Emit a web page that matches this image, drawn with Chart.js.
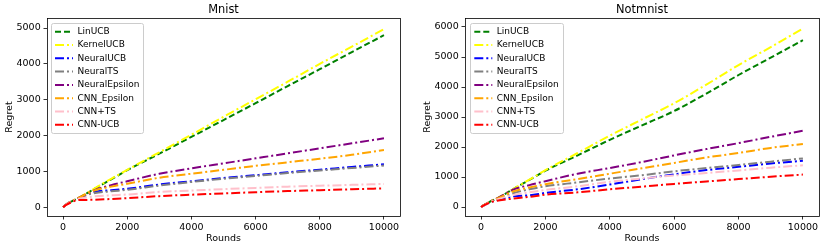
<!DOCTYPE html>
<html>
<head>
<meta charset="utf-8">
<script src="https://cdn.jsdelivr.net/npm/chart.js@4.4.0/dist/chart.umd.min.js"></script>
<style>
  html, body { margin: 0; padding: 0; background: #fff; }
  #wrap { position: relative; width: 830px; height: 251px; background: #fff; }
  .panel { position: absolute; top: 0; width: 415px; height: 251px; }
</style>
</head>
<body>
<div id="wrap">
  <div class="panel" style="left:0"><canvas id="c1" width="415" height="251"></canvas></div>
  <div class="panel" style="left:415px"><canvas id="c2" width="415" height="251"></canvas></div>
</div>
<script>
// ---- data ----
const rounds = [0, 100, 250, 500, 750, 1000, 1500, 2000, 3000, 4000, 5000, 6000, 7000, 8000, 9000, 10000];
const seriesNames = ['LinUCB', 'KernelUCB', 'NeuralUCB', 'NeuralTS', 'NeuralEpsilon', 'CNN_Epsilon', 'CNN+TS', 'CNN-UCB'];
const seriesColors = ['#008000', '#ffff00', '#0000ff', '#808080', '#800080', '#ffa500', '#ffc0cb', '#ff0000'];
const xTicks = [0, 2000, 4000, 6000, 8000, 10000];
const yTicksMnist = [0, 1000, 2000, 3000, 4000, 5000];
const yTicksNotmnist = [0, 1000, 2000, 3000, 4000, 5000, 6000];

// Mnist
const mnistLinUCB        = [0, 70, 150, 260, 390, 520, 770, 1030, 1490, 1960, 2430, 2900, 3380, 3850, 4330, 4800];
const mnistKernelUCB     = [0, 70, 150, 265, 395, 530, 790, 1040, 1530, 2020, 2520, 3010, 3500, 4000, 4480, 4970];
const mnistNeuralUCB     = [0, 70, 150, 250, 350, 430, 470, 510, 630, 720, 810, 890, 970, 1045, 1120, 1195];
const mnistNeuralTS      = [0, 70, 150, 250, 340, 390, 440, 480, 600, 700, 790, 870, 950, 1020, 1090, 1160];
const mnistNeuralEpsilon = [0, 70, 150, 260, 370, 480, 610, 720, 930, 1080, 1220, 1360, 1500, 1640, 1780, 1920];
const mnistCNNEpsilon    = [0, 70, 150, 260, 370, 470, 570, 650, 820, 930, 1040, 1150, 1250, 1350, 1460, 1595];
const mnistCNNTS         = [0, 70, 140, 230, 270, 300, 330, 350, 425, 460, 500, 535, 570, 595, 620, 645];
const mnistCNNUCB        = [0, 60, 130, 200, 200, 205, 225, 250, 305, 345, 380, 415, 445, 470, 497, 523];

// Notmnist
const notLinUCB        = [0, 70, 160, 290, 440, 600, 900, 1210, 1720, 2240, 2720, 3200, 3780, 4400, 4980, 5560];
const notKernelUCB     = [0, 70, 160, 290, 440, 600, 910, 1230, 1800, 2380, 2920, 3460, 4080, 4730, 5330, 5950];
const notNeuralUCB     = [0, 60, 140, 230, 300, 360, 390, 470, 590, 750, 930, 1090, 1230, 1340, 1450, 1540];
const notNeuralTS      = [0, 65, 150, 260, 360, 460, 590, 690, 820, 950, 1060, 1190, 1300, 1400, 1510, 1620];
const notNeuralEpsilon = [0, 70, 160, 290, 440, 580, 730, 860, 1110, 1300, 1500, 1720, 1930, 2130, 2340, 2540];
const notCNNEpsilon    = [0, 70, 160, 280, 400, 520, 650, 760, 930, 1110, 1290, 1470, 1650, 1800, 1970, 2100];
const notCNNTS         = [0, 65, 150, 250, 330, 400, 490, 570, 690, 840, 950, 1050, 1130, 1220, 1310, 1390];
const notCNNUCB        = [0, 60, 140, 210, 250, 280, 340, 410, 490, 590, 680, 770, 850, 930, 1010, 1080];

const mnistSeries = [mnistLinUCB, mnistKernelUCB, mnistNeuralUCB, mnistNeuralTS, mnistNeuralEpsilon, mnistCNNEpsilon, mnistCNNTS, mnistCNNUCB];
const notSeries = [notLinUCB, notKernelUCB, notNeuralUCB, notNeuralTS, notNeuralEpsilon, notCNNEpsilon, notCNNTS, notCNNUCB];

// ---- styling ----
const FAM = "'DejaVu Sans', sans-serif";
const DASHED = [6, 3];
const DASHDOT = [9, 3, 2, 3];

function makeDatasets(series) {
  const n = series.length;
  return series.map((vals, i) => ({
    label: seriesNames[i],
    data: rounds.map((r, k) => ({ x: r, y: vals[k] })),
    borderColor: seriesColors[i],
    backgroundColor: seriesColors[i],
    borderWidth: 2,
    borderDash: i === 0 ? DASHED : DASHDOT,
    pointRadius: 0,
    fill: false,
    cubicInterpolationMode: 'monotone',
    order: n - i
  }));
}

const framePlugin = {
  id: 'frames',
  afterUpdate(chart, args, opts) {
    const lg = chart.legend;
    if (!lg || !lg.legendHitBoxes || !lg.legendHitBoxes.length) return;
    const a = chart.chartArea;
    const hb = lg.legendHitBoxes;
    let l = Infinity, t = Infinity;
    hb.forEach(h => { l = Math.min(l, h.left); t = Math.min(t, h.top); });
    const dx = a.left + (opts.sx || 8) - l;
    const dy = a.top + (opts.sy || 9.2) - t;
    lg.left += dx; lg.right += dx; lg.top += dy; lg.bottom += dy;
    hb.forEach(h => { h.left += dx; h.top += dy; });
  },
  beforeDraw(chart) {
    const lg = chart.legend;
    if (!lg || !lg.legendHitBoxes || !lg.legendHitBoxes.length) return;
    const hb = lg.legendHitBoxes;
    let l = Infinity, t = Infinity, r = -Infinity, b = -Infinity;
    hb.forEach(h => { l = Math.min(l, h.left); t = Math.min(t, h.top); r = Math.max(r, h.left + h.width); b = Math.max(b, h.top + h.height); });
    const ctx = chart.ctx;
    ctx.save();
    const x0 = Math.round(l - 4) + 0.5, y0 = Math.round(t - 4.5) + 0.5;
    const x1 = Math.round(r + 4) + 0.5, y1 = Math.round(b + 3.5) + 0.5;
    ctx.beginPath();
    if (ctx.roundRect) ctx.roundRect(x0, y0, x1 - x0, y1 - y0, 2); else ctx.rect(x0, y0, x1 - x0, y1 - y0);
    ctx.fillStyle = 'rgba(255,255,255,0.8)';
    ctx.fill();
    ctx.strokeStyle = '#cccccc';
    ctx.lineWidth = 1;
    ctx.stroke();
    ctx.restore();
  },
  afterDraw(chart) {
    const a = chart.chartArea;
    const ctx = chart.ctx;
    ctx.save();
    ctx.strokeStyle = '#000';
    ctx.lineWidth = 0.8;
    ctx.strokeRect(Math.round(a.left) + 0.5, Math.round(a.top) + 0.5, Math.round(a.right - a.left), Math.round(a.bottom - a.top));
    ctx.restore();
  }
};

function makeChart(id, title, series, yMin, yMax, yTicks, yWidth, rightPad, yTitlePad, legendSx) {
  const tickFont = { family: FAM, size: 9.5 };
  return new Chart(document.getElementById(id), {
    type: 'line',
    data: { datasets: makeDatasets(series) },
    options: {
      responsive: false,
      animation: false,
      events: [],
      layout: { padding: { left: 0, right: rightPad, top: 0, bottom: 0 } },
      plugins: {
        title: {
          display: true, text: title, fullSize: false, color: '#000',
          font: { family: FAM, size: 11.4, weight: 'normal' },
          padding: { top: 3.2, bottom: 1.12 }
        },
        legend: {
          position: 'chartArea', align: 'start',
          labels: {
            usePointStyle: true, pointStyle: 'line', pointStyleWidth: 18,
            font: { family: FAM, size: 9 }, color: '#000', padding: 4.3,
            sort: (a, b) => a.datasetIndex - b.datasetIndex,
            generateLabels: (chart) => Chart.defaults.plugins.legend.labels.generateLabels(chart).map(l => {
              const ds = chart.data.datasets[l.datasetIndex];
              return Object.assign({}, l, { lineDash: ds.borderDash, lineWidth: 2, strokeStyle: ds.borderColor, pointStyle: 'line', fontColor: '#000', lineCap: 'butt' });
            })
          }
        },
        tooltip: { enabled: false },
        frames: { sx: legendSx, sy: 9.2 }
      },
      scales: {
        x: {
          type: 'linear', min: -500, max: 10500,
          afterFit: (s) => { s.height = 35; },
          afterBuildTicks: (s) => { s.ticks = xTicks.map(v => ({ value: v })); },
          ticks: { stepSize: 2000, includeBounds: false, font: tickFont, color: '#000', padding: 2.5, maxRotation: 0, autoSkip: false, callback: (v) => String(v) },
          grid: { drawOnChartArea: false, drawTicks: true, tickLength: 3.5, color: '#000', tickWidth: 0.8 },
          border: { display: false },
          title: { display: true, text: 'Rounds', color: '#000', font: tickFont, padding: { top: 0, bottom: 7 } }
        },
        y: {
          type: 'linear', min: yMin, max: yMax,
          afterFit: (s) => { s.width = yWidth; },
          afterBuildTicks: (s) => { s.ticks = yTicks.map(v => ({ value: v })); },
          ticks: { stepSize: 1000, includeBounds: false, font: tickFont, color: '#000', padding: 2.8, autoSkip: false, callback: (v) => String(v) },
          grid: { drawOnChartArea: false, drawTicks: true, tickLength: 3.5, color: '#000', tickWidth: 0.8 },
          border: { display: false },
          title: { display: true, text: 'Regret', color: '#000', font: tickFont, padding: { top: yTitlePad, bottom: 0 } }
        }
      }
    },
    plugins: [framePlugin]
  });
}

makeChart('c1', 'Mnist', mnistSeries, -250, 5280, yTicksMnist, 47, 15, 3.6, 8);
makeChart('c2', 'Notmnist', notSeries, -300, 6300, yTicksNotmnist, 50, 11, 6.6, 9.3);
</script>
</body>
</html>
